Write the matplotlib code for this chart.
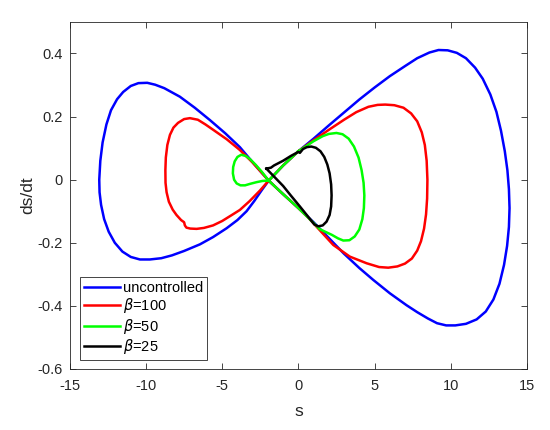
import matplotlib
matplotlib.use('Agg')
import matplotlib.pyplot as plt

plt.rcParams['font.family'] = ['Liberation Sans', 'DejaVu Sans']
plt.rcParams['mathtext.fontset'] = 'dejavusans'

# ── 데이터 ─────────────────────────────
unc_s = [0, 1, 2, 3, 4, 5, 6, 7, 7.8, 8.6, 9.2, 9.8, 10.4, 11.0, 11.6, 12.1, 12.6, 13.0,
         13.3, 13.55, 13.72, 13.82, 13.86, 13.82, 13.7, 13.5, 13.2, 12.8, 12.3, 11.7, 11.0,
         10.3, 9.7, 9.1, 8.5, 7.8, 7.1, 6.0, 4.92, 4.0, 3.0, 2.0, 1.0, 0, -1.0, -1.95,
         -3.0, -3.84, -4.8, -5.81, -6.8, -7.78, -8.8, -9.4, -9.92, -10.5, -11.0, -11.5,
         -11.9, -12.3, -12.6, -12.85, -13.0, -13.07, -13.05, -12.95, -12.75, -12.45,
         -12.05, -11.55, -11.0, -10.4, -9.75, -9.0, -8.3, -7.5, -6.46, -5.6, -4.71, -4.0,
         -3.4, -2.9, -2.4, -1.95, -1.0, 0]
unc_ds = [0.09, 0.13, 0.172, 0.213, 0.254, 0.292, 0.328, 0.36, 0.385, 0.403, 0.411, 0.41,
          0.402, 0.385, 0.355, 0.32, 0.27, 0.215, 0.155, 0.09, 0.03, -0.03, -0.09, -0.15,
          -0.21, -0.27, -0.33, -0.38, -0.418, -0.443, -0.457, -0.462, -0.462, -0.455,
          -0.44, -0.42, -0.398, -0.36, -0.318, -0.28, -0.235, -0.185, -0.135, -0.09,
          -0.046, -0.003, 0.055, 0.103, 0.147, 0.189, 0.228, 0.263, 0.29, 0.301, 0.307,
          0.306, 0.297, 0.278, 0.255, 0.22, 0.175, 0.118, 0.06, 0.0, -0.04, -0.08,
          -0.125, -0.165, -0.2, -0.228, -0.245, -0.253, -0.253, -0.249, -0.24, -0.226,
          -0.205, -0.182, -0.154, -0.128, -0.1, -0.068, -0.033, -0.003, 0.045, 0.09]

b100_s = [0, 1, 2, 3, 3.8, 4.6, 5.2, 5.7, 6.3, 6.9, 7.4, 7.8, 8.1, 8.3, 8.42, 8.47, 8.45,
          8.38, 8.25, 8.05, 7.8, 7.45, 7.0, 6.5, 5.9, 5.3, 4.48, 3.38, 2.29, 1.4, 0.7, 0,
          -1.0, -1.95, -3.0, -3.84, -4.7, -5.59, -6.1, -6.6, -7.12, -7.5, -7.9, -8.2,
          -8.43, -8.6, -8.7, -8.73, -8.72, -8.65, -8.5, -8.25, -8.0, -7.7, -7.5, -7.45,
          -7.35, -7.1, -6.68, -6.2, -5.6, -5.0, -4.4, -3.84, -3.2, -2.53, -1.95, -1.0, 0]
b100_ds = [0.09, 0.125, 0.158, 0.19, 0.214, 0.231, 0.237, 0.238, 0.236, 0.228, 0.21, 0.185,
           0.15, 0.11, 0.06, 0.0, -0.06, -0.11, -0.155, -0.195, -0.225, -0.25, -0.266,
           -0.275, -0.279, -0.277, -0.265, -0.244, -0.207, -0.16, -0.123, -0.09, -0.046,
           -0.003, 0.054, 0.094, 0.128, 0.158, 0.175, 0.19, 0.195, 0.192, 0.18, 0.165,
           0.142, 0.11, 0.07, 0.03, -0.01, -0.04, -0.07, -0.095, -0.112, -0.128, -0.135,
           -0.145, -0.152, -0.155, -0.156, -0.153, -0.145, -0.131, -0.113, -0.096, -0.068,
           -0.035, -0.003, 0.045, 0.09]

b50_s = [0, 1, 1.6, 2.0, 2.5, 2.9, 3.3, 3.65, 3.95, 4.15, 4.28, 4.33, 4.3, 4.2, 4.0, 3.7,
         3.35, 2.95, 2.6, 2.2, 1.8, 1.41, 0.7, 0, -1.0, -1.95, -2.4, -2.8, -3.15, -3.45,
         -3.75, -4.0, -4.18, -4.28, -4.3, -4.22, -4.05, -3.8, -3.5, -3.15, -2.75, -2.35,
         -1.95, -1.0, 0]
b50_ds = [0.09, 0.122, 0.138, 0.145, 0.148, 0.144, 0.13, 0.105, 0.07, 0.03, -0.01, -0.05,
          -0.09, -0.125, -0.158, -0.18, -0.192, -0.193, -0.186, -0.175, -0.166, -0.157,
          -0.123, -0.09, -0.046, -0.003, 0.025, 0.047, 0.064, 0.075, 0.079, 0.072, 0.058,
          0.04, 0.02, 0.0, -0.012, -0.018, -0.018, -0.013, -0.008, -0.004, -0.003, 0.045,
          0.09]

b25_s = [-2.1, -1.8, -1.6, -1.0, -0.5, 0.0, 0.1, 0.3, 0.55, 0.85, 1.15, 1.45, 1.7, 1.9,
         2.05, 2.15, 2.18, 2.15, 2.05, 1.85, 1.6, 1.3, 1.05, 0.6, 0.1, -0.5, -1.0, -1.5,
         -1.9, -2.1]
b25_ds = [0.035, 0.038, 0.045, 0.06, 0.075, 0.088, 0.085, 0.097, 0.103, 0.105, 0.101,
          0.09, 0.072, 0.048, 0.02, -0.015, -0.05, -0.085, -0.112, -0.133, -0.145, -0.148,
          -0.142, -0.115, -0.085, -0.05, -0.02, 0.005, 0.025, 0.035]

labels = ['uncontrolled', r'$\beta$=100', r'$\beta$=50', r'$\beta$=25']
colors = ['#0000FF', '#FF0000', '#00FF00', '#000000']

# ── 그래프 ─────────────────────────────────
fig = plt.figure(figsize=(5.5, 4.3), dpi=100)
ax = fig.add_axes([0.127, 0.142, 0.831, 0.807])

for s, ds, lab, c in zip([unc_s, b100_s, b50_s, b25_s],
                         [unc_ds, b100_ds, b50_ds, b25_ds], labels, colors):
    ax.plot(s, ds, color=c, linewidth=1.8, label=lab, solid_joinstyle='round')

ax.set_xlim(-15, 15)
ax.set_ylim(-0.6, 0.5)
ax.set_xticks([-15, -10, -5, 0, 5, 10, 15])
ax.set_yticks([-0.6, -0.4, -0.2, 0, 0.2, 0.4])
ax.set_yticklabels(['-0.6', '-0.4', '-0.2', '0', '0.2', '0.4'])
ax.set_xticklabels(['-15', '-10', '-5', '0', '5', '10', '15'])
ax.tick_params(direction='in', length=4, width=0.6, top=True, right=True,
               labelsize=10.5, colors='#262626')
ax.tick_params(axis='x', pad=7)
ax.tick_params(axis='y', pad=5)
for sp in ax.spines.values():
    sp.set_color('#262626')
    sp.set_linewidth(0.6)

ax.set_xlabel('s', fontsize=12.5, color='#262626', labelpad=8)
ax.set_ylabel('ds/dt', fontsize=12.5, color='#262626', labelpad=2)

leg = ax.legend(loc='lower left', bbox_to_anchor=(0.022, 0.026), fontsize=10.5,
                frameon=True, fancybox=False, edgecolor='#262626', framealpha=1,
                handlelength=2.5, handletextpad=0.2, labelspacing=0.1,
                borderpad=0.25, borderaxespad=0)
leg.get_frame().set_linewidth(0.6)

plt.savefig('out.png', dpi=100, facecolor='white')
